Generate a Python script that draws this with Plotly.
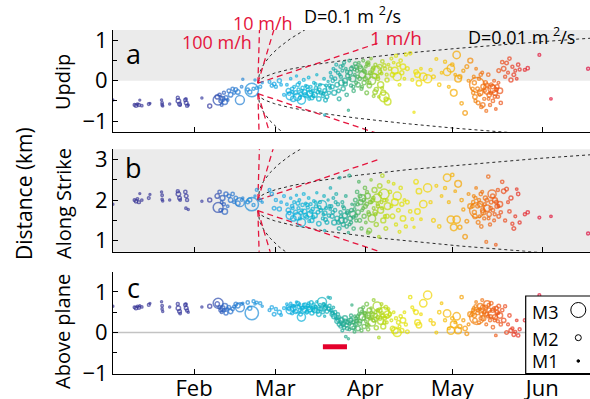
import numpy as np
import pandas as pd
import plotly.graph_objects as go

YEAR_START = pd.Timestamp("2013-01-01")

# ---------------- event catalogue (day of year, km, km, km, magnitude) ----------------
day = [4.0, 11.5, 12.0, 12.5, 13.0, 13.3, 14.0, 16.4, 16.8, 20.8, 21.0, 21.0, 21.2, 23.6, 26.4, 26.6, 27.0, 27.2, 29.0, 29.3, 29.6, 29.2, 30.0, 34.7, 37.4,
       40.0, 40.3, 40.8, 41.2, 41.5, 41.8, 42.3, 42.6, 43.0, 43.6, 44.0, 44.6, 45.3, 45.8, 46.4, 47.1, 47.8, 48.4, 48.8, 50.5, 51.2, 51.9, 52.5, 53.0, 53.6,
       54.8, 55.5, 58.0, 58.8, 59.6, 60.2, 61.4, 62.0, 63.0,
       64.0, 64.5, 65.0, 65.3, 65.8, 66.2, 66.5, 67.0, 67.3, 67.6, 68.0, 68.3, 68.7, 69.0, 69.4, 69.8, 70.1, 70.5, 70.8, 71.2, 71.5, 71.9, 72.2, 72.6, 72.9,
       73.3, 73.6, 74.0, 74.3, 74.7, 75.0, 75.4, 75.7, 76.1, 76.4, 76.8, 77.1, 77.5, 77.8, 78.2, 78.5, 78.9, 79.0, 77.0,
       79.3, 79.6, 80.0, 80.3, 80.6, 81.0, 81.3, 81.6, 82.0, 82.2, 82.5, 82.8, 83.1, 83.4, 83.7, 84.0, 84.3, 84.6, 84.9, 85.2, 85.5, 85.8, 86.1, 86.4, 86.7,
       87.0, 87.3, 87.6, 87.9,
       88.2, 88.5, 88.8, 89.1, 89.4, 89.7, 90.0, 90.3, 90.6, 90.9, 91.2, 91.5, 91.8, 92.1, 92.4, 92.7, 93.0, 93.3, 93.6, 93.9, 94.2, 94.5, 94.8, 95.1, 95.4,
       95.7, 96.0, 96.3, 96.6, 96.9, 97.2, 97.5, 97.8, 98.1, 98.4, 98.7, 99.0, 92.0,
       99.5, 100.0, 100.4, 100.8, 101.2, 101.6, 102.0, 102.4, 102.8, 103.2, 103.6, 104.0, 104.5, 105.0, 105.5,
       106.5, 107.2, 107.8, 108.5, 109.0, 109.5, 110.2, 111.0, 112.5, 113.5, 114.5, 115.5, 116.5, 117.3,
       118.5, 119.2, 119.8, 120.5, 121.0, 121.5, 122.0, 122.5, 123.0, 123.6, 124.2, 124.8, 125.4, 126.0, 126.6, 127.2,
       128.0, 128.4, 128.8, 129.2, 129.5, 129.9, 130.2, 130.6, 131.0, 131.3, 131.7, 132.0, 132.4, 132.7, 133.0, 133.4, 133.7, 134.0, 134.4, 134.7,
       135.0, 135.4, 135.7, 136.0, 136.4, 136.7, 137.0, 137.4, 137.7,
       138.2, 138.7, 139.2, 139.7, 140.2, 140.7, 141.2, 141.7, 142.2, 142.7, 143.2, 143.7, 144.2,
       146.0, 147.0, 151.0, 155.0, 167.8,
       64.8, 66.0, 67.8, 68.5, 69.2, 70.3, 71.0, 71.7, 72.4, 73.1, 73.9, 75.2, 76.6, 77.3, 78.7,
       79.8, 80.8, 81.8, 82.6, 83.3, 84.1, 84.8, 85.6, 86.2, 86.9, 87.4, 87.8,
       88.4, 89.2, 89.9, 90.5, 91.0, 91.6, 92.3, 93.1, 93.8, 94.4, 95.3, 96.1, 96.8, 97.6, 98.5,
       128.2, 128.6, 129.0, 129.7, 130.4, 130.8, 131.5, 132.2, 132.9, 133.5, 134.2, 134.9, 135.6, 136.2, 136.9]

updip = [-0.48, -0.60, -0.62, -0.58, -0.60, -0.48, -0.62, -0.58, -0.56, -0.48, -0.55, -0.60, -0.63, -0.58, -0.42, -0.50, -0.58, -0.60, -0.48, -0.55, -0.62, -0.45, -0.60, -0.43, -0.63,
         -0.40, -0.48, -0.35, -0.50, -0.60, -0.45, -0.30, -0.52, -0.42, -0.48, -0.25, -0.35, -0.20, -0.30, -0.22, -0.28, -0.48, -0.15, 0.04, -0.22, -0.28, -0.23, -0.20, 0.02, -0.18,
         -0.15, -0.05, -0.03, -0.12, -0.08, -0.15, 0.00, -0.10, -0.35,
         -0.10, -0.25, -0.38, 0.05, -0.20, -0.45, -0.15, -0.30, 0.12, -0.40, -0.22, -0.05, -0.33, -0.48, -0.18, 0.02, -0.28, -0.12, -0.38, -0.22, 0.08, -0.32, -0.15, -0.42, -0.25,
         -0.05, -0.35, -0.18, 0.15, -0.28, -0.45, -0.10, -0.30, -0.20, -0.38, 0.05, -0.25, -0.12, -0.40, -0.02, -0.30, -0.18, 0.20, -0.85,
         0.10, -0.15, 0.30, -0.30, 0.05, 0.40, -0.10, 0.20, -0.45, 0.15, 0.35, -0.05, 0.25, -0.20, 0.45, 0.00, 0.30, -0.35, 0.12, -0.73, 0.50, 0.20, -0.12, 0.35, 0.05,
         -0.25, 0.28, 0.42, -0.05,
         0.25, -0.10, 0.45, 0.05, 0.30, -0.20, 0.15, 0.50, -0.05, 0.22, 0.35, -0.30, 0.10, 0.40, -0.12, 0.20, 0.55, 0.00, 0.28, -0.38, 0.12, 0.40, -0.22, 0.25, 0.05,
         -0.40, 0.35, -0.10, 0.18, 0.48, -0.30, -0.40, 0.30, -0.45, 0.15, -0.52, 0.40, 0.45,
         0.30, 0.55, 0.15, 0.45, 0.25, 0.62, 0.10, 0.40, -0.10, 0.50, 0.20, 0.35, 0.05, 0.65, 0.30,
         0.68, 0.02, -0.78, 0.22, 0.15, -0.06, 0.30, 0.10, 0.05, 0.27, 0.10, 0.54, -0.10, 0.20,
         0.47, 0.22, -0.15, 0.31, 0.40, -0.30, 0.15, 0.64, 0.05, 0.10, -0.56, 0.25, -0.80, 0.35, 0.00, 0.50,
         -0.20, 0.10, -0.40, 0.30, -0.10, -0.55, 0.05, -0.30, -0.65, 0.20, -0.15, -0.45, -0.05, -0.75, -0.25, 0.15, -0.35, -0.60, -0.10, -0.20,
         -0.50, 0.00, -0.30, -0.70, -0.15, -0.40, 0.25, -0.25, -0.55,
         0.46, 0.30, 0.10, 0.44, 0.20, 0.55, 0.02, 0.35, 0.15, 0.25, 0.05, 0.40, 0.28,
         0.27, 0.31, 0.64, -0.45, 0.30,
         -0.32, -0.28, -0.10, -0.42, -0.25, -0.35, -0.15, -0.45, -0.28, -0.38, -0.08, -0.22, -0.32, -0.48, -0.12,
         0.00, 0.25, -0.25, 0.10, 0.38, -0.08, 0.22, 0.05, 0.30, -0.15, 0.15, 0.35,
         0.10, 0.35, -0.15, 0.25, 0.05, 0.42, -0.05, 0.18, 0.32, -0.28, 0.10, 0.22, -0.18, 0.38, 0.02,
         -0.30, -0.05, -0.50, -0.20, -0.35, 0.15, -0.60, -0.25, -0.10, -0.45, -0.30, -0.15, -0.40, -0.22, -0.05]

strike = [1.90, 2.00, 1.97, 2.03, 1.95, 2.16, 2.00, 2.05, 2.14, 2.20, 2.12, 2.02, 1.98, 2.00, 2.22, 2.15, 2.05, 2.00, 2.20, 2.10, 2.00, 1.80, 1.77, 1.97, 2.00,
          2.10, 1.82, 2.20, 1.75, 1.95, 2.05, 1.90, 1.72, 2.15, 1.85, 2.10, 2.00, 2.15, 1.95, 2.05, 1.92, 1.95, 2.00, 2.05, 1.95, 2.00, 1.90, 1.88, 2.10, 2.25,
          2.00, 1.95, 2.25, 2.15, 1.80, 2.00, 1.78, 1.95, 2.10,
          1.90, 1.75, 1.62, 2.05, 1.85, 1.55, 1.95, 1.70, 2.12, 1.60, 1.80, 2.00, 1.68, 1.45, 1.88, 2.15, 1.72, 1.92, 1.58, 1.82, 2.05, 1.65, 1.90, 1.50, 1.78,
          1.98, 1.62, 1.85, 2.18, 1.70, 1.42, 1.95, 1.75, 1.88, 1.55, 2.10, 1.68, 1.80, 1.45, 2.00, 1.62, 1.78, 2.30, 1.25,
          1.85, 1.60, 2.05, 1.45, 1.75, 2.15, 1.55, 1.90, 1.30, 2.55, 1.70, 1.50, 1.95, 1.40, 1.80, 1.62, 2.10, 1.35, 1.72, 1.20, 2.60, 1.55, 1.45, 1.90, 1.65,
          1.30, 1.78, 2.00, 1.50,
          2.20, 1.70, 2.45, 1.50, 1.95, 1.30, 2.05, 1.80, 1.60, 2.30, 1.45, 1.90, 2.10, 1.70, 1.25, 1.95, 2.50, 1.55, 2.00, 1.80, 2.25, 1.65, 1.40, 2.05, 1.85,
          1.10, 2.35, 1.75, 1.95, 2.60, 1.50, 2.15, 1.60, 1.30, 2.00, 1.85, 2.45, 1.20,
          2.20, 1.85, 1.60, 2.40, 1.95, 1.40, 2.10, 1.75, 1.22, 2.30, 1.90, 1.55, 2.00, 1.35, 1.95,
          1.72, 1.53, 1.33, 2.45, 1.72, 2.22, 1.53, 1.90, 2.30, 1.95, 1.50, 2.35, 1.35, 2.10,
          2.30, 2.55, 1.95, 1.52, 2.62, 1.33, 2.22, 1.52, 2.40, 1.33, 2.00, 1.77, 1.10, 1.48, 2.15, 1.85,
          1.85, 2.10, 1.60, 2.30, 1.75, 1.45, 2.00, 1.90, 1.35, 2.20, 1.70, 1.55, 2.05, 0.97, 1.80, 2.58, 1.65, 1.40, 1.95, 2.15,
          1.75, 1.50, 2.00, 0.90, 1.85, 2.25, 1.60, 1.90, 1.70,
          2.45, 2.22, 1.50, 2.27, 1.95, 1.72, 2.05, 1.42, 1.30, 1.60, 2.27, 2.15, 1.45,
          1.65, 1.70, 1.57, 1.60, 1.18,
          1.68, 1.80, 1.92, 1.55, 1.75, 1.62, 1.88, 1.48, 1.72, 1.58, 1.95, 1.82, 1.65, 1.52, 1.85,
          1.70, 1.95, 1.45, 1.60, 1.85, 1.50, 1.68, 1.40, 1.75, 1.58, 1.88, 1.62,
          1.90, 2.10, 1.75, 2.00, 1.85, 2.20, 1.65, 1.95, 2.05, 1.70, 1.90, 2.15, 1.80, 2.00, 1.60,
          1.95, 1.70, 2.05, 1.85, 1.60, 2.15, 1.75, 1.90, 2.00, 1.55, 1.80, 2.10, 1.65, 1.95, 1.85]

above = [0.65, 0.62, 0.60, 0.64, 0.61, 0.66, 0.63, 0.68, 0.72, 0.76, 0.66, 0.58, 0.52, 0.63, 0.70, 0.60, 0.52, 0.47, 0.68, 0.60, 0.54, 0.70, 0.50, 0.63, 0.65,
         0.70, 0.72, 0.62, 0.55, 0.50, 0.60, 0.55, 0.65, 0.48, 0.58, 0.62, 0.52, 0.58, 0.64, 0.70, 0.66, 0.62, 0.70, 0.72, 0.74, 0.60, 0.48, 0.77, 0.70, 0.74,
         0.72, 0.65, 0.55, 0.62, 0.45, 0.58, 0.50, 0.43, 0.60,
         0.70, 0.62, 0.55, 0.72, 0.48, 0.60, 0.66, 0.52, 0.75, 0.58, 0.63, 0.70, 0.45, 0.38, 0.60, 0.68, 0.55, 0.62, 0.50, 0.66, 0.72, 0.58, 0.64, 0.48, 0.60,
         0.70, 0.55, 0.62, 0.76, 0.52, 0.45, 0.68, 0.58, 0.75, 0.50, 0.70, 0.60, 0.65, 0.52, 0.87, 0.58, 0.85, 0.55, 0.40,
         0.55, 0.45, 0.62, 0.40, 0.50, 0.35, 0.28, 0.45, 0.20, 0.38, 0.15, 0.30, 0.05, 0.22, 0.12, 0.35, -0.10, 0.18, 0.25, -0.15, 0.08, 0.30, 0.42, 0.68, 0.15,
         0.25, 0.02, 0.20, 0.35,
         0.30, 0.10, 0.45, 0.22, 0.55, 0.05, 0.38, 0.62, 0.15, 0.48, 0.28, 0.70, 0.42, 0.18, 0.55, 0.35, 0.60, 0.25, 0.45, 0.80, 0.32, 0.50, 0.12, 0.65, 0.38,
         -0.12, 0.55, 0.28, 0.70, 0.42, 0.15, 0.50, 0.35, 0.62, 0.25, 0.45, 0.58, 0.08,
         0.45, 0.30, 0.10, 0.50, 0.05, 0.35, 0.00, 0.25, 0.15, 0.40, 0.05, 0.30, 0.50, 0.20, 0.02,
         0.87, 0.62, 0.55, 0.50, 0.25, 0.18, 0.45, 0.72, 0.92, 0.30, 0.22, 0.00, 0.50, 0.72,
         0.30, 0.47, 0.10, 0.05, 0.35, 0.20, 0.25, 0.40, 0.05, 0.15, 0.87, 0.30, 0.10, -0.03, 0.20, 0.45,
         0.45, 0.60, 0.30, 0.75, 0.38, 0.55, 0.25, 0.65, 0.45, 0.80, 0.35, 0.50, 0.62, 0.20, 0.70, 0.40, 0.55, 0.30, 0.72, 0.45,
         0.13, 0.60, 0.38, -0.07, 0.50, 0.28, 0.65, 0.42, 0.20,
         0.55, 0.30, 0.65, 0.00, 0.20, 0.42, 0.05, 0.10, -0.05, 0.02, 0.30, -0.07, 0.08,
         0.30, 0.15, 0.92, 0.40, 0.50,
         0.58, 0.66, 0.72, 0.55, 0.62, 0.68, 0.52, 0.60, 0.74, 0.56, 0.64, 0.58, 0.70, 0.62, 0.66,
         0.48, 0.38, 0.30, 0.25, 0.18, 0.28, 0.10, 0.22, 0.32, 0.12, 0.40, 0.28,
         0.40, 0.28, 0.52, 0.35, 0.45, 0.20, 0.38, 0.50, 0.30, 0.42, 0.55, 0.35, 0.48, 0.25, 0.40,
         0.55, 0.42, 0.65, 0.48, 0.58, 0.35, 0.62, 0.52, 0.45, 0.68, 0.40, 0.55, 0.30, 0.60, 0.48]

mag = [1.0, 1.3, 1.5, 1.2, 1.4, 0.9, 1.1, 1.3, 0.9, 1.0, 1.2, 1.1, 1.0, 1.0, 1.4, 1.8, 1.6, 1.2, 1.5, 1.6, 1.4, 1.1, 1.0, 1.0, 1.7,
       1.8, 2.6, 1.5, 1.6, 1.3, 1.9, 1.4, 2.0, 1.7, 1.2, 1.6, 1.8, 1.5, 1.3, 1.6, 1.8, 2.5, 1.2, 1.0, 1.5, 1.7, 2.9, 1.4, 1.0, 1.3,
       1.4, 1.0, 1.3, 1.5, 1.6, 1.4, 1.7, 1.2, 1.3,
       1.2, 1.8, 2.3, 1.1, 1.5, 2.0, 1.3, 1.7, 1.0, 2.3, 1.4, 1.2, 1.6, 2.4, 1.5, 1.3, 1.8, 1.1, 1.6, 1.4, 1.2, 2.0, 1.3, 1.7, 1.5,
       1.2, 1.9, 1.4, 1.0, 1.6, 1.8, 1.3, 1.5, 2.5, 1.4, 1.2, 1.7, 1.3, 1.6, 1.0, 1.5, 1.2, 1.1, 1.0,
       1.4, 1.7, 1.2, 1.9, 1.5, 1.3, 1.8, 1.4, 1.6, 1.2, 1.5, 2.0, 1.3, 1.7, 1.4, 1.9, 1.2, 1.5, 1.6, 1.0, 1.3, 1.8, 1.4, 1.0, 2.1,
       1.5, 1.3, 1.6, 1.4,
       1.5, 1.8, 1.2, 1.6, 1.9, 1.4, 2.2, 1.3, 1.7, 1.5, 1.2, 1.6, 2.0, 1.4, 1.8, 1.5, 1.1, 2.3, 1.6, 1.3, 1.9, 1.4, 1.7, 2.4, 1.5,
       1.2, 1.8, 2.1, 1.3, 1.5, 1.9, 2.6, 1.4, 1.6, 1.3, 2.2, 1.2, 1.5,
       1.5, 1.3, 1.8, 1.2, 2.2, 1.4, 2.4, 1.6, 1.3, 1.5, 1.7, 2.0, 1.2, 1.4, 1.6,
       1.5, 1.3, 1.0, 1.8, 2.0, 2.0, 1.2, 2.3, 2.4, 1.4, 1.6, 1.3, 1.5, 1.2,
       1.4, 2.3, 1.3, 2.3, 1.5, 2.2, 1.2, 2.3, 2.2, 1.7, 1.5, 1.4, 1.8, 1.6, 1.3, 1.9,
       1.5, 1.3, 1.8, 1.2, 3.0, 1.6, 1.4, 2.0, 1.5, 1.3, 1.9, 1.4, 1.7, 1.3, 2.2, 1.5, 1.8, 1.4, 1.6, 2.4,
       1.5, 1.3, 1.9, 1.2, 1.7, 1.4, 1.6, 2.0, 1.5,
       1.5, 1.8, 1.4, 1.6, 1.3, 1.5, 1.7, 1.4, 1.6, 1.3, 1.2, 1.5, 1.4,
       1.4, 1.5, 1.3, 1.2, 1.4,
       1.5, 1.3, 1.6, 1.4, 1.2, 1.7, 1.5, 1.3, 1.6, 1.4, 1.2, 1.5, 1.3, 1.6, 1.4,
       1.5, 1.3, 1.6, 1.4, 1.2, 1.7, 1.5, 1.3, 1.6, 1.4, 1.2, 1.5,
       1.4, 1.6, 1.3, 1.5, 1.7, 1.4, 1.6, 1.3, 1.5, 1.8, 1.4, 1.6, 1.3, 1.5, 1.7,
       1.5, 1.7, 1.4, 1.6, 1.3, 1.5, 1.8, 1.4, 1.6, 1.3, 1.5, 1.7, 1.4, 1.6, 1.3]

# ---------------- migration model ----------------
origin_day = 54.0
updip_front = [-0.06, -0.32]      # upper / lower starting position (km)
strike_front = [2.00, 1.74]
diffusivities = [0.1, 0.01]       # m^2/s
velocities = [100, 10, 1]         # m/h
velocity_max_days = 42
model_days = 115

# red bar (panel c)
bar_days = [76.4, 84.7]
bar_level = [-0.35, -0.35]

# tick labels
month_ticks = ["2013-02-01", "2013-03-01", "2013-04-01", "2013-05-01", "2013-06-01"]
month_labels = ["Feb", "Mar", "Apr", "May", "Jun"]

# colour by time
color_days = [4, 38, 44, 54, 62, 72, 80, 86, 90, 95, 101, 108, 116, 124, 131, 138, 144, 150, 168.5]
color_rgb = ["rgb(55,50,145)", "rgb(55,60,160)", "rgb(45,115,205)", "rgb(30,150,220)", "rgb(20,170,228)",
             "rgb(10,180,212)", "rgb(20,172,175)", "rgb(40,170,130)", "rgb(90,185,80)", "rgb(160,210,30)",
             "rgb(215,225,5)", "rgb(235,225,0)", "rgb(245,200,0)", "rgb(245,160,0)", "rgb(240,115,15)",
             "rgb(235,80,25)", "rgb(230,45,35)", "rgb(225,20,55)", "rgb(220,10,60)"]


def to_date(doy):
    return YEAR_START + pd.to_timedelta(np.asarray(doy, dtype=float) - 1.0, unit="D")


cmin, cmax = color_days[0], color_days[-1]
colorscale = [[(d - cmin) / (cmax - cmin), c] for d, c in zip(color_days, color_rgb)]

order = np.argsort(np.asarray(day), kind="stable")
day_s = np.asarray(day)[order]
dates = to_date(day_s)
sizes = 2.0 * np.exp(np.asarray(mag)[order] - 1.0)

RED = "rgb(228,20,60)"
FONT = "Open Sans"

fig = go.Figure()

panel_vals = [np.asarray(updip)[order], np.asarray(strike)[order], np.asarray(above)[order]]
axes = [("x", "y"), ("x2", "y2"), ("x3", "y3")]
fronts = [updip_front, strike_front]

# model curves
t = np.linspace(0, model_days, 600)
tv = np.linspace(0, velocity_max_days, 300)
for k in range(2):
    xa, ya = axes[k]
    top, bot = fronts[k]
    for D in diffusivities:
        r = np.sqrt(4 * np.pi * D * t * 86400.0) / 1000.0
        for y in (top + r, bot - r):
            fig.add_trace(go.Scatter(x=to_date(origin_day + t), y=y, mode="lines",
                                     line=dict(color="rgb(40,40,40)", width=1, dash="dot"),
                                     xaxis=xa, yaxis=ya, hoverinfo="skip", showlegend=False))
    for v in velocities:
        r = v / 1000.0 * 24.0 * tv
        for y in (top + r, bot - r):
            fig.add_trace(go.Scatter(x=to_date(origin_day + tv), y=y, mode="lines",
                                     line=dict(color=RED, width=1.3, dash="6px,4px"),
                                     xaxis=xa, yaxis=ya, hoverinfo="skip", showlegend=False))

# events
for k in range(3):
    xa, ya = axes[k]
    fig.add_trace(go.Scatter(x=dates, y=panel_vals[k], mode="markers",
                             marker=dict(symbol="circle-open", size=sizes, color=day_s,
                                         colorscale=colorscale, cmin=cmin, cmax=cmax,
                                         line=dict(width=1.5)),
                             xaxis=xa, yaxis=ya, showlegend=False))

fig.add_trace(go.Scatter(x=to_date(bar_days), y=bar_level, mode="lines",
                         line=dict(color="rgb(228,0,43)", width=5),
                         xaxis="x3", yaxis="y3", showlegend=False))

# ---------------- layout ----------------
W, H = 590, 399
L, R, T, B = 113, 0, 30, 25
PW, PH = W - L - R, H - T - B


def pxx(px):
    return (px - L) / PW


def pyy(py):
    return (H - B - py) / PH


xrange_ = ["2013-01-04 01:40", "2013-06-17 10:48"]
common_x = dict(type="date", range=xrange_, tickvals=month_ticks, ticktext=month_labels,
                ticks="inside", ticklen=5, tickcolor="black", showline=True, linecolor="black",
                linewidth=1, showgrid=False, zeroline=False, automargin=False,
                tickfont=dict(family=FONT, size=22, color="black"))
common_y = dict(ticks="inside", ticklen=5, tickcolor="black", showline=True, linecolor="black",
                linewidth=1, showgrid=False, zeroline=False, automargin=False,
                minor=dict(dtick=0.5, ticks="inside", ticklen=4, tickcolor="black", showgrid=False),
                tickfont=dict(family=FONT, size=22, color="black"))

fig.update_layout(
    width=W, height=H, margin=dict(l=L, r=R, t=T, b=B),
    paper_bgcolor="white", plot_bgcolor="white", showlegend=False,
    xaxis=dict(common_x, anchor="y", showticklabels=False),
    xaxis2=dict(common_x, anchor="y2", matches="x", showticklabels=False),
    xaxis3=dict(common_x, anchor="y3", matches="x", ticklabelstandoff=-5),
    yaxis=dict(common_y, anchor="x", domain=[pyy(132.3), 1.0], range=[-1.28, 1.26], tickvals=[-1, 0, 1]),
    yaxis2=dict(common_y, anchor="x2", domain=[pyy(251.7), pyy(149.3)], range=[0.73, 3.25], tickvals=[1, 2, 3]),
    yaxis3=dict(common_y, anchor="x3", domain=[0.0, pyy(272)], range=[-1.02, 1.49], tickvals=[-1, 0, 1]),
)

shapes = [
    dict(type="rect", xref="x domain", yref="y", x0=0, x1=1, y0=0, y1=1.26,
         fillcolor="#ebebeb", line=dict(width=0), layer="below"),
    dict(type="rect", xref="x2 domain", yref="y2 domain", x0=0, x1=1, y0=0, y1=1,
         fillcolor="#ebebeb", line=dict(width=0), layer="below"),
    dict(type="line", xref="x3 domain", yref="y3", x0=0, x1=1, y0=0, y1=0,
         line=dict(color="rgb(195,195,195)", width=1.5), layer="below"),
    # legend box
    dict(type="rect", xref="paper", yref="paper", x0=pxx(525.7), x1=pxx(600), y0=pyy(373.5), y1=pyy(296),
         fillcolor="white", line=dict(color="black", width=1.2), layer="above"),
]
for cy, rad, filled in [(310, 7.5, False), (337.7, 3.0, False), (361, 1.3, True)]:
    shapes.append(dict(type="circle", xref="paper", yref="paper", xsizemode="pixel", ysizemode="pixel",
                       xanchor=pxx(578.3), yanchor=pyy(cy), x0=-rad, x1=rad, y0=-rad, y1=rad,
                       line=dict(color="black", width=1), fillcolor="black" if filled else "rgba(0,0,0,0)",
                       layer="above"))
fig.update_layout(shapes=shapes)

ann = []


def add_text(text, px, py, size, color="black", angle=0):
    ann.append(dict(text=text, x=pxx(px), y=pyy(py), xref="paper", yref="paper", showarrow=False,
                    xanchor="center", yanchor="middle", textangle=angle,
                    font=dict(family=FONT, size=size, color=color)))


add_text("100 m/h", 216.7, 42, 18, RED)
add_text("10 m/h", 263, 23, 18, RED)
add_text("D=0.1 m <sup>2</sup>/s", 352, 15, 18)
add_text("1 m/h", 396, 38, 19, RED)
add_text("D=0.01 m <sup>2</sup>/s", 521, 36, 18)
add_text("a", 133, 53, 27)
add_text("b", 133.5, 167, 27)
add_text("c", 133, 287, 27)
add_text("Updip", 62, 82, 20, angle=-90)
add_text("Along Strike", 63, 204, 20, angle=-90)
add_text("Above plane", 62, 332, 20, angle=-90)
add_text("Distance (km)", 24, 194, 21, angle=-90)
add_text("M3", 544.5, 311.5, 18)
add_text("M2", 544.5, 338.5, 18)
add_text("M1", 544.5, 361, 18)
fig.update_layout(annotations=ann)

fig.write_html("out.html", config={"displayModeBar": False},
               post_script="document.body.style.margin='0px';document.body.style.padding='0px';")
